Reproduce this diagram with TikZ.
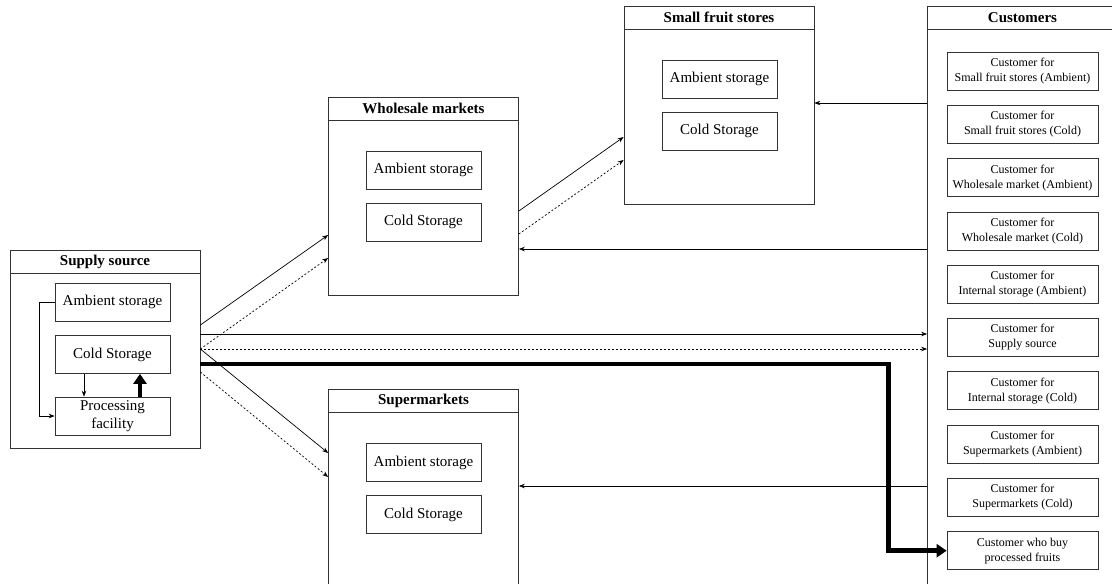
\documentclass[tikz,border=0pt]{standalone}
\usepackage{fontspec}
\setmainfont{Liberation Serif}
\usetikzlibrary{arrows.meta}

\begin{document}
\begin{tikzpicture}[x=1pt,y=-1pt,line width=0.7pt,
    >={Stealth[length=6pt,width=4.5pt]},
    group/.style={draw=black!80,minimum width=190pt,minimum height=198pt},
    grouptitle/.style={draw=black!80,anchor=north,minimum width=190pt,minimum height=23pt,
      font=\fontsize{15}{18}\selectfont\bfseries},
    store/.style={draw=black!80,minimum width=115pt,minimum height=38pt,inner sep=1pt,
      align=center,font=\fontsize{15}{18}\selectfont},
    cust/.style={draw=black!80,minimum width=151pt,minimum height=38pt,inner sep=1pt,
      align=center,font=\fontsize{12}{15}\selectfont},
    flowc/.style={->,dash pattern=on 2pt off 2pt},
    bigflow/.style={-{Triangle[length=10pt,width=13pt]},line width=4.5pt}]
  \path[use as bounding box,fill=white] (0,0) rectangle (1112,584);
  % supply source
  \node[group] (ss) at (105,349) {};
  \node[grouptitle] (sst) at (ss.north) {Supply source};
  \node[store] (sa) at (112.5,302) {Ambient storage};
  \node[store] (sc) at (112.5,354.5) {Cold Storage};
  \node[store] (sp) at (112.5,416) {Processing\\facility};
  % wholesale markets
  \node[group] (wm) at (423.5,196) {};
  \node[grouptitle] (wmt) at (wm.north) {Wholesale markets};
  \node[store] (wa) at (423.5,170) {Ambient storage};
  \node[store] (wc) at (423.5,222) {Cold Storage};
  % small fruit stores
  \node[group] (sf) at (719,105) {};
  \node[grouptitle] (sft) at (sf.north) {Small fruit stores};
  \node[store] (fa) at (719.5,79) {Ambient storage};
  \node[store] (fc) at (719.5,131) {Cold Storage};
  % supermarkets
  \node[group] (sm) at (423.5,488) {};
  \node[grouptitle] (smt) at (sm.north) {Supermarkets};
  \node[store] (ma) at (423.5,462.5) {Ambient storage};
  \node[store] (mc) at (423.5,514.5) {Cold Storage};
  % customers
  \node[group,minimum height=700pt,anchor=north] (cu) at (1022.5,6) {};
  \node[grouptitle] (cut) at (cu.north) {Customers};
  \node[cust] (c1) at (1022.5,71) {Customer for\\Small fruit stores (Ambient)};
  \node[cust] (c2) at (1022.5,124.3) {Customer for\\Small fruit stores (Cold)};
  \node[cust] (c3) at (1022.5,177.6) {Customer for\\Wholesale market (Ambient)};
  \node[cust] (c4) at (1022.5,231) {Customer for\\Wholesale market (Cold)};
  \node[cust] (c5) at (1022.5,284.2) {Customer for\\Internal storage (Ambient)};
  \node[cust] (c6) at (1022.5,337.5) {Customer for\\Supply source};
  \node[cust] (c7) at (1022.5,390.8) {Customer for\\Internal storage (Cold)};
  \node[cust] (c8) at (1022.5,444.1) {Customer for\\Supermarkets (Ambient)};
  \node[cust] (c9) at (1022.5,497.4) {Customer for\\Supermarkets (Cold)};
  \node[cust] (c10) at (1022.5,550.7) {Customer who buy\\processed fruits};
  % inside the supply source
  \draw[->] (sa.west) -- ++(-15,0) |- (sp.west);
  \draw[->] ([xshift=-28.5pt]sc.south) -- ([xshift=-28.5pt]sp.north);
  \draw[bigflow] ([xshift=27.5pt]sp.north) -- ([xshift=27.5pt]sc.south);
  % flows out of the supply source
  \draw[->] ([yshift=24pt]ss.east) -- ([yshift=-39pt]wm.west);
  \draw[flowc] (ss.east) -- ([yshift=-62pt]wm.west);
  \draw[->] (ss.east) -- ([yshift=35pt]sm.west);
  \draw[flowc] ([yshift=-23pt]ss.east) -- ([yshift=11pt]sm.west);
  \draw[->] ([yshift=15pt]ss.east) -- ([yshift=15pt]ss.east -| cu.west);
  \draw[flowc] (ss.east) -- (ss.east -| cu.west);
  \draw[bigflow] ([yshift=-15pt]ss.east) -- ++(688,0) |- (c10.west);
  % wholesale to small fruit stores
  \draw[->] ([yshift=-15pt]wm.east) -- ([yshift=-32pt]sf.west);
  \draw[flowc] ([yshift=-38pt]wm.east) -- ([yshift=-55pt]sf.west);
  % customers back to the stores
  \draw[->] ([yshift=2pt]sf.east -| cu.west) -- ([yshift=2pt]sf.east);
  \draw[->] ([yshift=-53pt]wm.east -| cu.west) -- ([yshift=-53pt]wm.east);
  \draw[->] ([yshift=2pt]sm.east -| cu.west) -- ([yshift=2pt]sm.east);
\end{tikzpicture}
\end{document}
